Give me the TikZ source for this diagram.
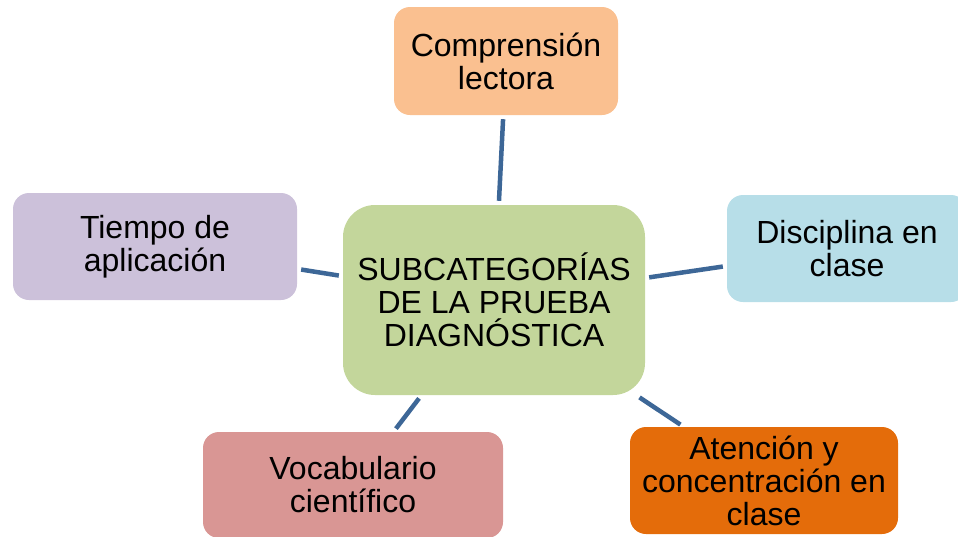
\documentclass[tikz,border=0pt]{standalone}
\usepackage{fontspec}
\setmainfont{Liberation Sans}

\definecolor{hubgreen}{HTML}{C3D69B}
\definecolor{readorange}{HTML}{FAC090}
\definecolor{ruleblue}{HTML}{B7DEE8}
\definecolor{timelilac}{HTML}{CCC1DA}
\definecolor{wordrose}{HTML}{D99694}
\definecolor{focusorange}{HTML}{E46C0A}
\definecolor{linkblue}{HTML}{3D6797}

\begin{document}
\begin{tikzpicture}[x=1pt, y=-1pt,
		cat/.style={rectangle, rounded corners=16pt, inner sep=0pt, align=center,
			minimum height=107pt, font=\fontsize{32}{33}\selectfont},
		link/.style={color=linkblue, line width=4.5pt, shorten <=4pt, shorten >=4pt}]
		\clip (0, 0) rectangle (958, 536);

		\node[cat, fill=hubgreen, rounded corners=32pt, minimum width=302pt, minimum height=190pt] (hub) at (494, 300) {SUBCATEGORÍAS\\DE LA PRUEBA\\DIAGNÓSTICA};
		\node[cat, fill=readorange, minimum width=224pt, minimum height=108pt] (c1) at (506, 61) {Comprensión\\lectora};
		\node[cat, fill=ruleblue, minimum width=240pt] (c2) at (847, 248.5) {Disciplina en\\clase};
		\node[cat, fill=focusorange, minimum width=268pt] (c3) at (764, 480.5) {Atención y\\concentración en\\clase};
		\node[cat, fill=wordrose, minimum width=300pt, minimum height=106pt] (c4) at (353, 485) {Vocabulario\\científico};
		\node[cat, fill=timelilac, minimum width=284pt] (c5) at (155, 246.5) {Tiempo de\\aplicación};

		\draw[link] (c1) -- (hub);
		\draw[link] (hub) -- (c2);
		\draw[link] (hub) -- (c3);
		\draw[link] (hub) -- (c4);
		\draw[link] (c5) -- (hub);
	\end{tikzpicture}
\end{document}
